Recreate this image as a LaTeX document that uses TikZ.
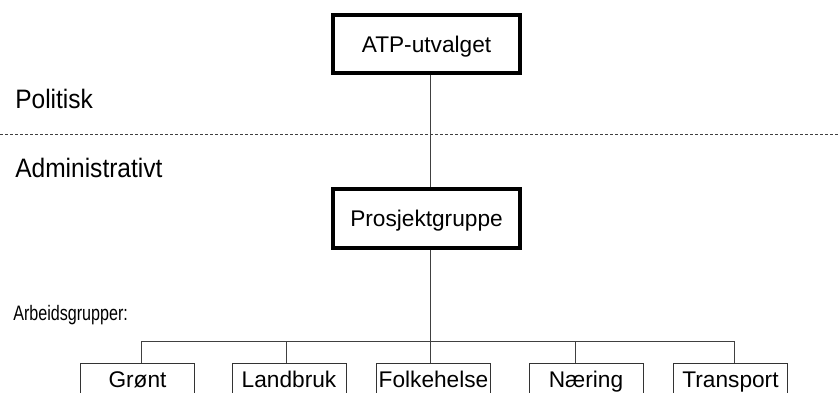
\documentclass[tikz,border=0pt]{standalone}
\usepackage{fontspec}
\setmainfont{Liberation Sans}
\usetikzlibrary{calc}

\tikzset{
	topbox/.style={draw=black, line width=3pt, minimum width=140pt, minimum height=44pt, inner sep=0pt,
		font=\fontsize{17}{20}\selectfont, text height=12.2pt, text depth=0pt},
	groupbox/.style={draw=black!80, line width=0.75pt, minimum width=85.5pt, minimum height=24pt, inner sep=0pt,
		font=\fontsize{17}{20}\selectfont, text height=12.2pt, text depth=0pt},
	link/.style={draw=black!75, line width=0.75pt},
	levellabel/.style={anchor=base west, inner sep=0pt, font=\fontsize{20}{24}\selectfont},
	smalllabel/.style={anchor=base west, inner sep=0pt, font=\fontsize{15.7}{18}\selectfont},
	divider/.style={draw=black!75, line width=0.75pt, dash pattern=on 2.25pt off 1.5pt}
}

\begin{document}
\begin{tikzpicture}[x=0.75pt,y=-0.75pt]
		\useasboundingbox (0,0) rectangle (840,393);
		\clip (0,0) rectangle (840,393);
		
		% levels
		\node[levellabel] (pol) at (15,108) {\scalebox{0.92}[1]{Politisk}};
		\node[levellabel] (adm) at (15,177) {\scalebox{0.92}[1]{Administrativt}};
		\node[smalllabel] (arb) at (13,320) {\scalebox{0.77}[1]{Arbeidsgrupper:}};
		\draw[divider] (0,134) -- (840,134);
		
		\node[topbox] (atp) at (426.5,44) {ATP-utvalget};
		\node[topbox] (pg) at (426.5,218.5) {Prosjektgruppe};
		
		\node[groupbox] (gr) at (137.5,379) {Grønt};
		\node[groupbox] (lb) at (289,379) {Landbruk};
		\node[groupbox] (fh) at (433.5,379) {Folkehelse};
		\node[groupbox] (nr) at (586,379) {Næring};
		\node[groupbox] (tr) at (730.5,379) {Transport};
		
		\coordinate (hub) at (430,341);
		\coordinate (d1) at (141,341);
		\coordinate (d2) at (286,341);
		\coordinate (d4) at (575,341);
		\coordinate (d5) at (734,341);
		
		\draw[link] (atp.south -| hub) -- (pg.north -| hub);
		\draw[link] (pg.south -| hub) -- (hub);
		\draw[link] (d1) -- (d5);
		\draw[link] (d1) -- (d1 |- gr.north);
		\draw[link] (d2) -- (d2 |- lb.north);
		\draw[link] (hub) -- (hub |- fh.north);
		\draw[link] (d4) -- (d4 |- nr.north);
		\draw[link] (d5) -- (d5 |- tr.north);
	\end{tikzpicture}
\end{document}
